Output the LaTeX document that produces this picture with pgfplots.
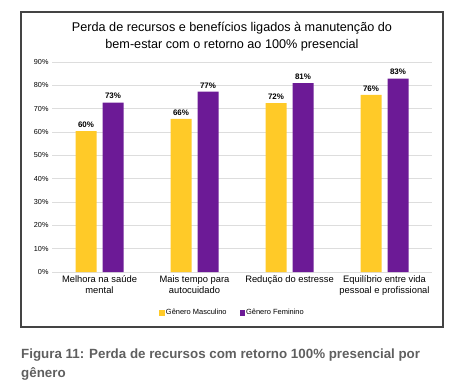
\documentclass[border=0pt]{standalone}
\usepackage{pgfplots}
\pgfplotsset{compat=1.18}
\usepackage{fontspec}
\setmainfont{Liberation Sans}
\definecolor{myyellow}{HTML}{FFCA28}
\definecolor{mypurple}{HTML}{6C1A96}
\definecolor{gridgray}{HTML}{DDDDDD}
\definecolor{framegray}{HTML}{444444}
\definecolor{capgray}{HTML}{5F5F5F}
\begin{document}
\begin{tikzpicture}[x=1bp,y=1bp]
\path (0,0) rectangle (457,385);
\draw[framegray, line width=1.2bp] (21,58) rectangle (443,373);
\node[font=\fontsize{12.7}{16.5}\selectfont, align=center] at (232,348.5) {Perda de recursos e benefícios ligados à manutenção do\\bem-estar com o retorno ao 100\% presencial};
\begin{axis}[at={(52bp,113bp)}, anchor=south west, scale only axis,
  width=380bp, height=210bp,
  ymin=0, ymax=90, xmin=-0.5, xmax=3.5,
  axis line style={draw=none},
  ytick={0,10,...,90},
  yticklabel={\pgfmathprintnumber{\tick}\%},
  /pgf/number format/assume math mode=true,
  ymajorgrids, grid style={gridgray, line width=0.8bp},
  major tick length=0pt,
  xtick={0,1,2,3},
  xticklabels={{Melhora na saúde\\mental},{Mais tempo para\\autocuidado},{Redução do estresse},{Equilíbrio entre vida\\pessoal e profissional}},
  yticklabel style={font=\fontsize{7.3}{8}\selectfont},
  xticklabel style={font=\fontsize{9.4}{11}\selectfont, align=center},
  ybar=6bp, bar width=21bp,
  nodes near coords={\pgfmathprintnumber[fixed,precision=0]{\pgfplotspointmeta}\%},
  every node near coord/.append style={font=\bfseries\fontsize{8}{9}\selectfont, black},
  legend style={at={(0.474,-0.195)}, anchor=center, draw=none, legend columns=2,
    font=\fontsize{7.5}{8}\selectfont, /tikz/every even column/.append style={column sep=12bp},
    /tikz/every odd column/.append style={column sep=0bp},
    nodes={inner xsep=1bp}},
  legend image code/.code={\fill[#1] (0bp,-2.7bp) rectangle (5.5bp,2.7bp);},
]
\addplot[fill=myyellow, draw=none] coordinates {(0,60.4) (1,65.6) (2,72.4) (3,75.9)};
\addplot[fill=mypurple, draw=none] coordinates {(0,72.6) (1,77.3) (2,80.9) (3,82.9)};
\legend{Gênero Masculino, Gênero Feminino}
\end{axis}
\node[font=\bfseries\fontsize{13.4}{19}\selectfont, text=capgray, align=left, anchor=west, inner sep=0pt] at (21,20.5) {Figura 11: Perda de recursos com retorno 100\% presencial por\\gênero};
\end{tikzpicture}
\end{document}
